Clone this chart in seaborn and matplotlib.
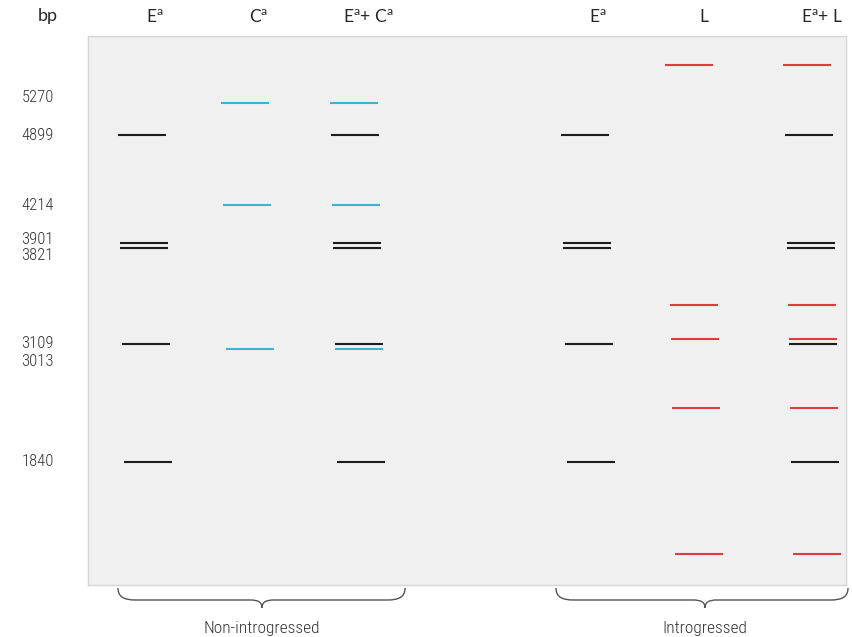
import matplotlib
matplotlib.use("Agg")
import matplotlib.pyplot as plt
from matplotlib.path import Path
from matplotlib.patches import PathPatch
import seaborn as sns
import pandas as pd

sns.set_style("white")

# --- DATA ---
# migration distance of each fragment (gel units, top = 0)
e_bands = [135, 243, 248, 344, 462]      # E^a fragments (black)
c_bands = [103, 205, 349]                # C^a fragments (blue)
l_bands = [65, 305, 339, 408, 554]       # L fragments (red)

lane_names = ["E$^{\\mathregular{a}}$", "C$^{\\mathregular{a}}$",
              "E$^{\\mathregular{a}}$+ C$^{\\mathregular{a}}$",
              "E$^{\\mathregular{a}}$", "L", "E$^{\\mathregular{a}}$+ L"]
lane_sources = [["E"], ["C"], ["E", "C"], ["E"], ["L"], ["E", "L"]]

ladder_bp = [5270, 4899, 4214, 3901, 3821, 3109, 3013, 1840]
ladder_pos = [103, 135, 205, 243, 248, 344, 349, 462]

group_names = ["Non-introgressed", "Introgressed"]

# --- LAYOUT / STYLE ---
lane_x = [139, 243, 352, 582, 688, 806]
half_w = 24
skew = 0.02
source_colors = {"E": "#1c1c1c", "C": "#3ab4d6", "L": "#e03c40"}
source_bands = {"E": e_bands, "C": c_bands, "L": l_bands}
label_nudge = {5270: -6, 3901: -3, 3821: 7, 3109: -1, 3013: 12}
groups = [(118, 405, 262), (556, 848, 705)]

rows = []
for i, srcs in enumerate(lane_sources):
    for s in srcs:
        for p in source_bands[s]:
            rows.append({"lane": i, "source": s, "pos": p})
df = pd.DataFrame(rows)
df["x"] = df["lane"].map(lambda i: lane_x[i]) + skew * df["pos"]

fig = plt.figure(figsize=(8.53, 6.37), dpi=100)
ax = fig.add_axes([88 / 853, 52 / 637, 758 / 853, 549 / 637])
ax.set_facecolor("#f0f0f0")
ax.set_xlim(88, 846)
ax.set_ylim(585, 36)
ax.set_xticks([])
ax.set_yticks([])
for sp in ax.spines.values():
    sp.set_color("#d6d6d6")
    sp.set_linewidth(1)

for s, sub in df.groupby("source"):
    ax.hlines(sub["pos"], sub["x"] - half_w, sub["x"] + half_w,
              color=source_colors[s], lw=1.5)

narrow = ["Roboto Condensed", "DejaVu Sans"]
head = ["Lato", "DejaVu Sans"]

ax.text(48, 16, "bp", ha="center", va="center", fontsize=13,
        family=head, clip_on=False)
for name, x in zip(lane_names, lane_x):
    ax.text(x + 16, 17, name, ha="center", va="center", fontsize=12.5,
            family=head, clip_on=False)

for bp, pos in zip(ladder_bp, ladder_pos):
    ax.text(54, pos + label_nudge.get(bp, 0), str(bp), ha="right",
            va="center", fontsize=12, color="#333333", family=narrow,
            weight="light", clip_on=False)

for (x0, x1, tip), name in zip(groups, group_names):
    verts = [(x0, 588), (x0, 597), (x0 + 6, 600), (x0 + 18, 600),
             (tip - 12, 600),
             (tip - 4, 600), (tip, 602), (tip, 608),
             (tip, 602), (tip + 4, 600), (tip + 12, 600),
             (x1 - 18, 600),
             (x1 - 6, 600), (x1, 597), (x1, 588)]
    codes = [Path.MOVETO, Path.CURVE4, Path.CURVE4, Path.CURVE4,
             Path.LINETO,
             Path.CURVE4, Path.CURVE4, Path.CURVE4,
             Path.CURVE4, Path.CURVE4, Path.CURVE4,
             Path.LINETO,
             Path.CURVE4, Path.CURVE4, Path.CURVE4]
    ax.add_patch(PathPatch(Path(verts, codes), fill=False, ec="#555555",
                           lw=1, clip_on=False))
    ax.text(tip, 629, name, ha="center", va="center", fontsize=12.5,
            color="#333333", family=narrow, weight="light", clip_on=False)

fig.savefig("out.png", dpi=100)
